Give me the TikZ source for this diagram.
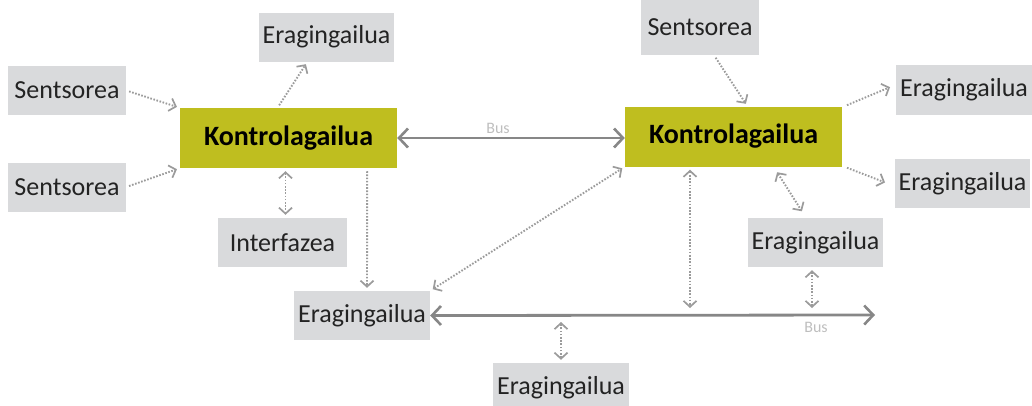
\documentclass[tikz,border=0pt]{standalone}
\usepackage{fontspec}
\setmainfont{Carlito}
\usetikzlibrary{arrows.meta,calc}

\definecolor{boxgray}{RGB}{217,218,220}
\definecolor{ctrlfill}{RGB}{191,190,31}
\definecolor{txt}{RGB}{35,35,35}
\definecolor{linkgray}{RGB}{155,155,155}
\definecolor{busgray}{RGB}{135,135,135}
\definecolor{buslabel}{RGB}{190,190,190}

\tikzset{
  unit/.style={fill=boxgray, text=txt, inner sep=0pt, minimum height=49pt,
    font=\fontsize{26}{30}\selectfont},
  ctrl/.style={fill=ctrlfill, text=black, inner sep=0pt, minimum width=217pt,
    minimum height=60pt, font=\fontsize{28}{32}\selectfont\bfseries},
  link/.style={draw=linkgray, line width=1.9pt, dash pattern=on 1.6pt off 1.6pt,
    shorten <=3pt, shorten >=3pt},
  tipone/.style={-{Straight Barb[length=6pt, width=13pt, line width=1.7pt]}},
  tiptwo/.style={{Straight Barb[length=6pt, width=13pt, line width=1.7pt]}-{Straight Barb[length=6pt, width=13pt, line width=1.7pt]}},
  bus/.style={draw=busgray, line width=2.8pt,
    {Straight Barb[length=9pt, width=19pt, line width=2.6pt]}-{Straight Barb[length=9pt, width=19pt, line width=2.6pt]}},
  buslbl/.style={text=buslabel, font=\fontsize{16}{18}\selectfont, inner sep=0pt}
}

\begin{document}
\begin{tikzpicture}[x=1pt, y=-1pt]
  \useasboundingbox (0,0) rectangle (1032,405);

  % left controller and its devices
  \node[unit, minimum width=118pt] (s1) at (67,90.5) {Sentsorea};
  \node[unit, minimum width=118pt] (s2) at (67,187) {Sentsorea};
  \node[unit, minimum width=135pt] (e1) at (326.5,37) {Eragingailua};
  \node[ctrl] (k1) at (288.5,138) {Kontrolagailua};
  \node[unit, minimum width=129pt] (i1) at (282.5,242.5) {Interfazea};
  \node[unit, minimum width=136pt] (e2) at (362,315.5) {Eragingailua};
  \node[unit, minimum width=136pt] (e3) at (561,387.5) {Eragingailua};

  % right controller and its devices
  \node[unit, minimum width=118pt, minimum height=56pt] (s3) at (700,27) {Sentsorea};
  \node[ctrl] (k2) at (733.5,136.5) {Kontrolagailua};
  \node[unit, minimum width=136pt, minimum height=50pt] (e4) at (964,90) {Eragingailua};
  \node[unit, minimum width=135pt] (e5) at (962.5,183.5) {Eragingailua};
  \node[unit, minimum width=135pt] (e6) at (815.5,242.5) {Eragingailua};

  % points on the lower bus
  \coordinate (busend) at (875,315);
  \coordinate (b1) at (690,315);
  \coordinate (b2) at (812,315);
  \coordinate (b3) at (561,315);

  % buses
  \draw[bus] (k1.east) -- (k1.east -| k2.west);
  \node[buslbl] (lbl1) at (498,128) {Bus};
  \draw[bus] (e2.east) -- (busend);
  \node[buslbl] (lbl2) at (816,327) {Bus};

  % dotted links around the left controller
  \draw[link, tipone] (s1.east) -- (k1.north west);
  \draw[link, tipone] (s2.east) -- (k1.south west);
  \draw[link, tipone] ($(k1.north)+(-11,0)$) -- ($(e1.south)+(-19,0)$);
  \draw[link, tiptwo] ($(k1.south)+(-3,0)$) -- ($(i1.north)+(3,0)$);
  \draw[link, tipone] ($(k1.south east)+(-30,0)$) -- ($(e2.north)+(5,0)$);
  \draw[link, tiptwo] (e2.north east) -- (k2.south west);

  % dotted links around the right controller
  \draw[link, tipone] ($(s3.south)+(14,0)$) -- ($(k2.north)+(14,0)$);
  \draw[link, tipone] ($(k2.north east)+(2,0)$) -- ($(e4.west)+(-3,-4)$);
  \draw[link, tipone] ($(k2.south east)+(2,0)$) -- ($(e5.west)+(-7,0)$);
  \draw[link, tiptwo] ($(k2.south)+(42,3)$) -- ($(e6.north)+(-12,-4)$);
  \draw[link, tiptwo] ($(k2.south)+(-43.5,0)$) -- ($(b1)+(0,-4)$);
  \draw[link, tiptwo] ($(e6.south)+(-3.5,0)$) -- ($(b2)+(0,-4)$);
  \draw[link, tiptwo] (e3.north) -- ($(b3)+(0,4)$);
\end{tikzpicture}
\end{document}
